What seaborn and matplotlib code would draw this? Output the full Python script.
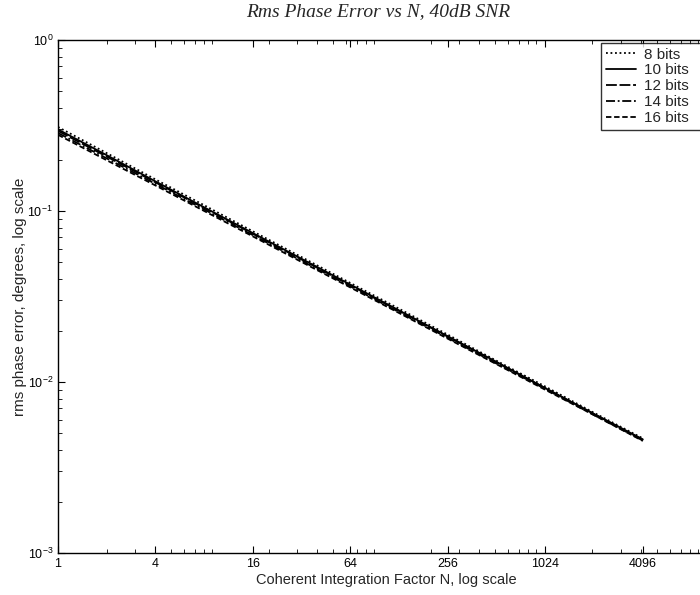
import numpy as np
import pandas as pd
import matplotlib
matplotlib.use("Agg")
import matplotlib.pyplot as plt
import seaborn as sns
from matplotlib.ticker import FixedLocator, LogLocator, NullFormatter

# ---- data ----
N = [1, 2, 4, 8, 16, 32, 64, 128, 256, 512, 1024, 2048, 4096]
err_8 = [0.310, 0.218, 0.153, 0.108, 0.0760, 0.0537, 0.0379, 0.0268, 0.0189, 0.0133, 0.0094, 0.0066, 0.00468]
err_10 = [0.300, 0.212, 0.149, 0.105, 0.0742, 0.0525, 0.0371, 0.0262, 0.0185, 0.0131, 0.0092, 0.0065, 0.00462]
err_12 = [0.294, 0.208, 0.147, 0.104, 0.0735, 0.0520, 0.0367, 0.0260, 0.0184, 0.0130, 0.0092, 0.0065, 0.00458]
err_14 = [0.286, 0.203, 0.144, 0.102, 0.0722, 0.0511, 0.0362, 0.0256, 0.0181, 0.0128, 0.0091, 0.0064, 0.00455]
err_16 = [0.279, 0.198, 0.141, 0.100, 0.0710, 0.0503, 0.0357, 0.0253, 0.0179, 0.0127, 0.0090, 0.0064, 0.00452]
series_labels = ["8 bits", "10 bits", "12 bits", "14 bits", "16 bits"]
x_ticks = [1, 4, 16, 64, 256, 1024, 4096]
x_tick_labels = ["1", "4", "16", "64", "256", "1024", "4096"]

rows = []
for lab, vals in zip(series_labels, [err_8, err_10, err_12, err_14, err_16]):
    for n, v in zip(N, vals):
        rows.append({"N": n, "err": v, "bits": lab})
df = pd.DataFrame(rows)

sns.set_style("ticks")
plt.rcParams["font.family"] = ["Liberation Sans", "DejaVu Sans"]
plt.rcParams["mathtext.fontset"] = "custom"
plt.rcParams["mathtext.rm"] = "Liberation Sans"

fig = plt.figure(figsize=(7.0, 5.95), dpi=100)
ax = fig.add_axes([58 / 700, (595 - 553) / 595, (715 - 58) / 700, (553 - 40) / 595])

dashes = {"8 bits": (1, 1.5), "10 bits": "", "12 bits": (6, 1.5), "14 bits": (5, 1.5, 1, 1.5), "16 bits": (3, 1.5)}
palette = {k: "black" for k in series_labels}
sns.lineplot(data=df, x="N", y="err", hue="bits", style="bits", dashes=dashes,
             palette=palette, hue_order=series_labels, style_order=series_labels,
             linewidth=1.3, ax=ax, legend=True)

ax.set_xscale("log")
ax.set_yscale("log")
ax.set_xlim(1, 2 ** 13.48)
ax.set_ylim(1e-3, 1e0)

ax.xaxis.set_major_locator(FixedLocator(x_ticks))
ax.set_xticklabels(x_tick_labels)
ax.xaxis.set_minor_locator(LogLocator(base=10, subs=np.arange(2, 10)))
ax.xaxis.set_minor_formatter(NullFormatter())
ax.yaxis.set_minor_locator(LogLocator(base=10, subs=np.arange(2, 10)))
ax.yaxis.set_minor_formatter(NullFormatter())

ax.tick_params(which="both", direction="in", top=True, right=True, colors="black", labelsize=9)
ax.tick_params(which="major", length=5, width=0.8)
ax.tick_params(which="minor", length=3, width=0.6)
for s in ax.spines.values():
    s.set_visible(True)
    s.set_color("black")
    s.set_linewidth(1.0)

ax.set_xlabel("Coherent Integration Factor N, log scale", fontsize=10.5, labelpad=2)
ax.set_ylabel("rms phase error, degrees, log scale", fontsize=11, labelpad=0)
ax.set_title("Rms Phase Error vs N, 40dB SNR", fontsize=14, style="italic",
             fontfamily="Liberation Serif", x=(378 - 58) / (715 - 58), pad=17)

leg = ax.legend(loc="upper left", bbox_to_anchor=(601 / 700, 1 - 43 / 595, 0.2, 0),
                bbox_transform=fig.transFigure, mode="expand", frameon=True, fancybox=False,
                edgecolor="black", fontsize=11, handlelength=2.0, labelspacing=0.12,
                handletextpad=0.5, borderaxespad=0, borderpad=0.3, title=None)
leg.get_frame().set_linewidth(1.0)

fig.savefig("out.png", dpi=100)
